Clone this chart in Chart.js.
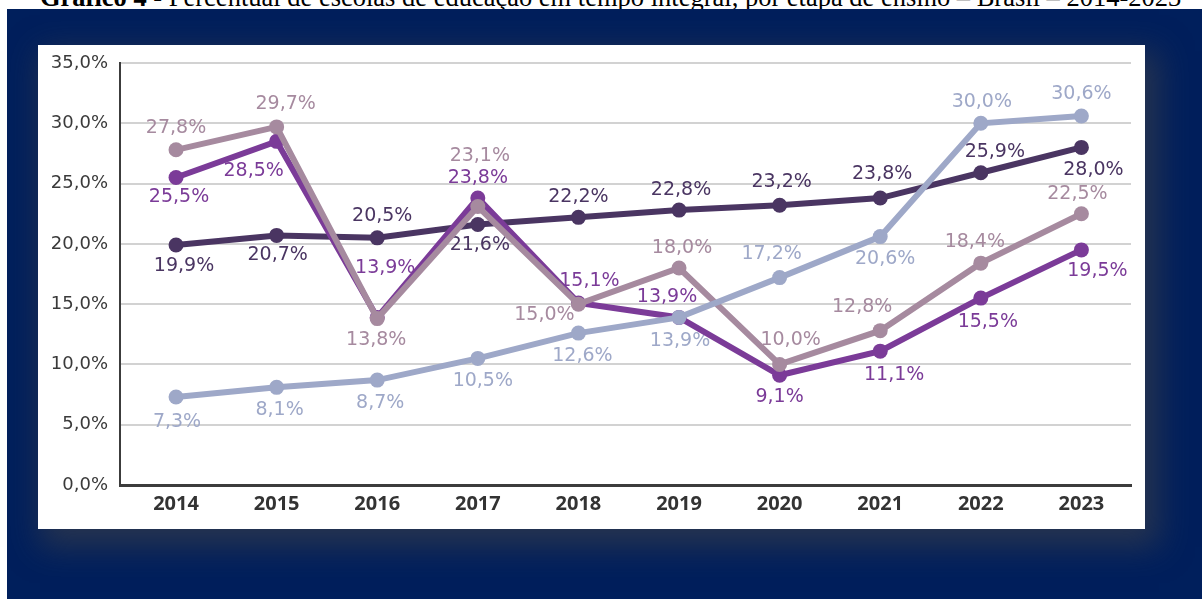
<!DOCTYPE html>
<html lang="pt-BR">
<head>
<meta charset="utf-8">
<title>Escolas em tempo integral</title>
<script src="https://cdn.jsdelivr.net/npm/chart.js@4.4.1/dist/chart.umd.min.js"></script>
<style>
  html, body { margin: 0; padding: 0; background: #fff; }
  body { width: 1202px; height: 599px; position: relative; overflow: hidden; }
  #titulo {
    position: absolute; left: 40px; top: -16px; white-space: nowrap;
    font-family: "Liberation Serif", serif; font-size: 26.5px; line-height: 26px; color: #000;
  }
  #fundo { position: absolute; left: 7px; top: 9px; right: 0; bottom: 0; background: #001f5c; }
  #painel {
    position: absolute; left: 38px; top: 45px; width: 1107px; height: 484px; background: #fff;
    box-shadow: 8px 12px 30px 6px rgba(70, 70, 70, 0.55);
  }
</style>
</head>
<body>
<div id="titulo"><b>Gráfico 4</b> - Percentual de escolas de educação em tempo integral, por etapa de ensino – Brasil – 2014-2023</div>
<div id="fundo"></div>
<div id="painel"><canvas id="graficoIntegral"></canvas></div>
<script>
const anos = ['2014', '2015', '2016', '2017', '2018', '2019', '2020', '2021', '2022', '2023'];
const yTicks = [0, 5, 10, 15, 20, 25, 30, 35];

const infantil = [19.9, 20.7, 20.5, 21.6, 22.2, 22.8, 23.2, 23.8, 25.9, 28.0];
const anosIniciais = [25.5, 28.5, 13.9, 23.8, 15.1, 13.9, 9.1, 11.1, 15.5, 19.5];
const anosFinais = [27.8, 29.7, 13.8, 23.1, 15.0, 18.0, 10.0, 12.8, 18.4, 22.5];
const medio = [7.3, 8.1, 8.7, 10.5, 12.6, 13.9, 17.2, 20.6, 30.0, 30.6];

const fmt = v => v.toFixed(1).replace('.', ',') + '%';

// where each value label sits relative to its point, [dx, dy] per year
const posRotulos = [
  [[8, 21], [1, 20], [5, -22], [2, 20], [0, -20], [2, -20], [2, -23], [2, -24], [14, -21], [12, 23]],
  [[3, 20], [-23, 30], [8, -49], [0, -20], [11, -22], [-12, -20], [0, 22], [14, 24], [7, 24], [16, 21]],
  [[0, -22], [9, -23], [-1, 21], [2, -50], [-34, 11], [3, -20], [11, -24], [-18, -24], [-6, -21], [-4, -20]],
  [[1, 25], [3, 23], [3, 23], [5, 23], [4, 23], [1, 24], [-8, -24], [5, 22], [1, -21], [0, -22]]
];

const rotulosPlugin = {
  id: 'rotulos',
  beforeDatasetsDraw(chart) {
    const ctx = chart.ctx;
    ctx.save();
    ctx.font = '19px "DejaVu Sans"';
    ctx.textAlign = 'center';
    ctx.textBaseline = 'middle';
    chart.data.datasets.forEach((ds, i) => {
      ctx.fillStyle = ds.borderColor;
      chart.getDatasetMeta(i).data.forEach((pt, j) => {
        const off = posRotulos[i][j];
        ctx.fillText(fmt(ds.data[j].y), pt.x + off[0], pt.y + off[1]);
      });
    });
    ctx.restore();
  }
};

function serie(label, valores, cor, ordem) {
  return {
    label: label,
    data: valores.map((v, i) => ({ x: i, y: v })),
    borderColor: cor,
    backgroundColor: cor,
    borderWidth: 6,
    pointRadius: 7.5,
    pointHoverRadius: 7.5,
    pointBorderWidth: 0,
    tension: 0,
    order: ordem
  };
}

new Chart(document.getElementById('graficoIntegral').getContext('2d'), {
  type: 'line',
  data: {
    datasets: [
      serie('Educação infantil', infantil, '#4a3562', 3),
      serie('Anos iniciais', anosIniciais, '#7b3b98', 2),
      serie('Anos finais', anosFinais, '#a68a9f', 1),
      serie('Ensino médio', medio, '#9ea8c8', 0)
    ]
  },
  options: {
    responsive: true,
    maintainAspectRatio: false,
    animation: false,
    layout: { padding: { top: 18, right: 14, left: 0, bottom: 0 } },
    plugins: {
      legend: { display: false },
      tooltip: { enabled: false }
    },
    scales: {
      x: {
        type: 'linear',
        min: -0.557,
        max: 9.493,
        afterBuildTicks(scale) { scale.ticks = anos.map((a, i) => ({ value: i })); },
        grid: { display: false, drawTicks: false },
        border: { display: true, color: '#3c3c3c', width: 3 },
        ticks: {
          color: '#333',
          padding: 7,
          font: { family: '"Open Sans"', size: 20, weight: 'bold' },
          callback: v => anos[v]
        },
        afterFit(scale) {
          scale.height = 44;
          scale.paddingLeft = 0;
          scale.paddingRight = 0;
        }
      },
      y: {
        min: 0,
        max: 35,
        afterBuildTicks(scale) { scale.ticks = yTicks.map(v => ({ value: v })); },
        grid: { color: '#d2d2d2', lineWidth: 2, drawTicks: false },
        border: { display: true, color: '#3c3c3c', width: 2 },
        ticks: {
          color: '#3a3a3a',
          padding: 12,
          font: { family: '"DejaVu Sans"', size: 18 },
          callback: v => fmt(v)
        },
        afterFit(scale) {
          scale.width = 82;
          scale.paddingTop = 0;
          scale.paddingBottom = 0;
        }
      }
    }
  },
  plugins: [rotulosPlugin]
});
</script>
</body>
</html>
